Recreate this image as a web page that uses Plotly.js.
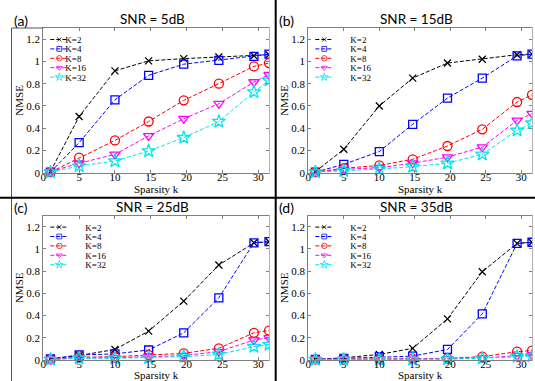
<!DOCTYPE html>
<html><head><meta charset="utf-8">
<script src="https://cdn.plot.ly/plotly-3.0.1.min.js"></script>
<style>html,body{margin:0;padding:0;background:#fff;} #chart{width:535px;height:381px;}</style>
</head><body><div id="chart"></div>
<script>
// ---------- data ----------
const sparsity = [1, 5, 10, 14.7, 19.6, 24.5, 29.4, 31.5];
const seriesNames = ['K=2', 'K=4', 'K=8', 'K=16', 'K=32'];
const panelTitles = ['SNR = 5dB', 'SNR = 15dB', 'SNR = 25dB', 'SNR = 35dB'];
const panelLabels = ['(a)', '(b)', '(c)', '(d)'];
const xTickVals = [0, 5, 10, 15, 20, 25, 30];
const yTickVals = [0, 0.2, 0.4, 0.6, 0.8, 1, 1.2];
const yTickText = ['0', '0.2', '0.4', '0.6', '0.8', '1', '1.2'];

// SNR = 5dB
const snr5_K2  = [0.01, 0.505, 0.915, 1.005, 1.025, 1.04, 1.05, 1.06];
const snr5_K4  = [0.005, 0.27, 0.655, 0.875, 0.975, 1.01, 1.045, 1.065];
const snr5_K8  = [0.005, 0.135, 0.29, 0.46, 0.65, 0.80, 0.955, 0.985];
const snr5_K16 = [0.01, 0.085, 0.165, 0.33, 0.485, 0.62, 0.815, 0.88];
const snr5_K32 = [0.005, 0.06, 0.105, 0.195, 0.315, 0.46, 0.725, 0.83];
// SNR = 15dB
const snr15_K2  = [0.01, 0.21, 0.60, 0.85, 0.985, 1.02, 1.06, 1.065];
const snr15_K4  = [0.005, 0.075, 0.19, 0.435, 0.67, 0.85, 1.05, 1.065];
const snr15_K8  = [0.005, 0.04, 0.065, 0.12, 0.24, 0.39, 0.635, 0.70];
const snr15_K16 = [0.005, 0.03, 0.045, 0.085, 0.14, 0.23, 0.47, 0.53];
const snr15_K32 = [0.005, 0.018, 0.033, 0.055, 0.085, 0.165, 0.38, 0.445];
// SNR = 25dB
const snr25_K2  = [0.01, 0.04, 0.095, 0.26, 0.53, 0.855, 1.055, 1.065];
const snr25_K4  = [0.01, 0.045, 0.055, 0.09, 0.245, 0.56, 1.055, 1.065];
const snr25_K8  = [0.005, 0.025, 0.03, 0.045, 0.06, 0.105, 0.245, 0.265];
const snr25_K16 = [0.005, 0.018, 0.02, 0.03, 0.04, 0.075, 0.18, 0.20];
const snr25_K32 = [0.005, 0.015, 0.015, 0.02, 0.03, 0.05, 0.12, 0.14];
// SNR = 35dB
const snr35_K2  = [0.005, 0.02, 0.05, 0.105, 0.37, 0.795, 1.05, 1.06];
const snr35_K4  = [0.005, 0.015, 0.03, 0.035, 0.095, 0.415, 1.05, 1.06];
const snr35_K8  = [0.005, 0.01, 0.01, 0.012, 0.015, 0.03, 0.075, 0.085];
const snr35_K16 = [0.005, 0.005, 0.005, 0.008, 0.01, 0.02, 0.04, 0.045];
const snr35_K32 = [0.005, 0.005, 0.005, 0.005, 0.008, 0.015, 0.03, 0.035];

const panelData = [
  [snr5_K2, snr5_K4, snr5_K8, snr5_K16, snr5_K32],
  [snr15_K2, snr15_K4, snr15_K8, snr15_K16, snr15_K32],
  [snr25_K2, snr25_K4, snr25_K8, snr25_K16, snr25_K32],
  [snr35_K2, snr35_K4, snr35_K8, snr35_K16, snr35_K32]
];

// ---------- styling ----------
const W = 535, H = 381;
const PX = x => x / W;
const PY = y => 1 - y / H;
const seriesStyle = [
  {color: '#000000', symbol: 'x-thin-open', size: 7},
  {color: '#0000ff', symbol: 'square-open', size: 8},
  {color: '#ff0000', symbol: 'circle-open', size: 9},
  {color: '#ff00ff', symbol: 'triangle-down-open', size: 9},
  {color: '#00e5ee', symbol: 'star-open', size: 10}
];
// plot boxes in pixels [x0, x1, yTop, yBottom]
const boxes = [
  [43.3, 269, 28, 172.7],
  [308.3, 532, 28, 172.7],
  [43.3, 269, 215.6, 360],
  [308.3, 532, 215.6, 360]
];
const serif = 'Liberation Serif, Times New Roman, serif';
const sans = 'Lato, Carlito, sans-serif';
const axisGray = '#808080';

const traces = [];
panelData.forEach((series, p) => {
  const sfx = p === 0 ? '' : String(p + 1);
  series.forEach((vals, s) => {
    const st = seriesStyle[s];
    traces.push({
      x: sparsity, y: vals,
      xaxis: 'x' + sfx, yaxis: 'y' + sfx,
      type: 'scatter', mode: 'lines+markers',
      name: seriesNames[s],
      legend: 'legend' + sfx,
      cliponaxis: false,
      line: {color: st.color, width: 1, dash: '4px,2px'},
      marker: {symbol: st.symbol, size: st.size, color: st.color,
               line: {color: st.color, width: 1.3}}
    });
  });
});

const layout = {
  width: W, height: H,
  margin: {l: 0, r: 0, t: 0, b: 0},
  paper_bgcolor: '#ffffff', plot_bgcolor: '#ffffff',
  font: {family: serif, size: 11, color: '#000'},
  annotations: [], shapes: []
};

boxes.forEach((b, p) => {
  const sfx = p === 0 ? '' : String(p + 1);
  const common = {
    ticks: 'inside', ticklen: 3, tickcolor: axisGray, tickwidth: 1,
    showline: true, linecolor: axisGray, linewidth: 1, mirror: 'ticks',
    showgrid: false, zeroline: false, fixedrange: true,
    tickfont: {family: serif, size: 11, color: '#000'}
  };
  layout['xaxis' + sfx] = Object.assign({}, common, {
    domain: [PX(b[0]), PX(b[1])], anchor: 'y' + sfx,
    range: [0, 31.5], tickvals: xTickVals, ticklabelstandoff: -6,
    title: {text: 'Sparsity k', font: {family: serif, size: 11, color: '#000'}, standoff: 3}
  });
  layout['yaxis' + sfx] = Object.assign({}, common, {
    domain: [PY(b[3]), PY(b[2])], anchor: 'x' + sfx,
    range: [0, 1.3], tickvals: yTickVals, ticktext: yTickText,
    title: {text: 'NMSE', font: {family: serif, size: 11, color: '#000'}, standoff: 0}
  });
  layout['legend' + sfx] = {
    x: PX(b[0] + 2), y: PY(b[2] - 3), xanchor: 'left', yanchor: 'top',
    bgcolor: 'rgba(0,0,0,0)', borderwidth: 0, itemwidth: 30,
    font: {family: serif, size: 9, color: '#000'}, tracegroupgap: 0
  };
  const cx = (b[0] + b[1]) / 2;
  layout.annotations.push({
    text: panelTitles[p], xref: 'paper', yref: 'paper',
    x: PX(cx - 4), y: PY(b[2] - 9), xanchor: 'center', yanchor: 'middle',
    showarrow: false, font: {family: sans, size: 13.5, color: '#000'}
  });
  layout.annotations.push({
    text: panelLabels[p], xref: 'paper', yref: 'paper',
    x: PX(b[0] - 31.5), y: PY(b[2] - 8), xanchor: 'left', yanchor: 'middle',
    showarrow: false, font: {family: sans, size: 14, color: '#000'}
  });
});

const line = (x0, y0, x1, y1, color, width) => ({
  type: 'line', xref: 'paper', yref: 'paper',
  x0: PX(x0), y0: PY(y0), x1: PX(x1), y1: PY(y1),
  line: {color: color, width: width}
});
// masks for the cropped right edge of each panel image
layout.shapes.push({type: 'rect', xref: 'paper', yref: 'paper', x0: PX(269.6), x1: PX(274.8), y0: 0, y1: 1,
  fillcolor: '#fff', line: {width: 0}});
layout.shapes.push({type: 'rect', xref: 'paper', yref: 'paper', x0: PX(532.6), x1: 1, y0: 0, y1: 1,
  fillcolor: '#fff', line: {width: 0}});
// frame lines
layout.shapes.push(line(11.5, 28, 43.3, 28, '#555', 1));
layout.shapes.push(line(11.5, 28, 11.5, 381, '#555', 1));
layout.shapes.push(line(275.7, 0, 275.7, 381, '#000', 2));
layout.shapes.push(line(0, 197.7, 535, 197.7, '#000', 2));

const LEG_GAP = 9.4;
function compactLegends(gd) {
  const groups = new Map();
  gd.querySelectorAll('g.traces').forEach(it => {
    const key = it.parentNode;
    if (!groups.has(key)) groups.set(key, []);
    groups.get(key).push(it);
  });
  groups.forEach(items => {
    let y0 = null;
    items.forEach((it, i) => {
      const m = /translate\(\s*([-\d.e]+)[ ,]+([-\d.e]+)\s*\)/.exec(it.getAttribute('transform') || '');
      if (!m) return;
      const x = parseFloat(m[1]), y = parseFloat(m[2]);
      if (y0 === null) y0 = y;
      it.setAttribute('transform', 'translate(' + x + ',' + (y0 + i * LEG_GAP) + ')');
      it.querySelectorAll('.legendlines path').forEach(pth => pth.setAttribute('d', 'M5,0h18'));
      it.querySelectorAll('.legendpoints path').forEach(pth => pth.setAttribute('transform', 'translate(14,0) scale(0.6)'));
      it.querySelectorAll('text.legendtext').forEach(t => {
        t.setAttribute('x', 20);
        t.querySelectorAll('tspan').forEach(ts => { if (ts.hasAttribute('x')) ts.setAttribute('x', 20); });
      });
    });
  });
}
Plotly.newPlot('chart', traces, layout, {staticPlot: true}).then(gd => compactLegends(gd));
</script>
</body></html>
